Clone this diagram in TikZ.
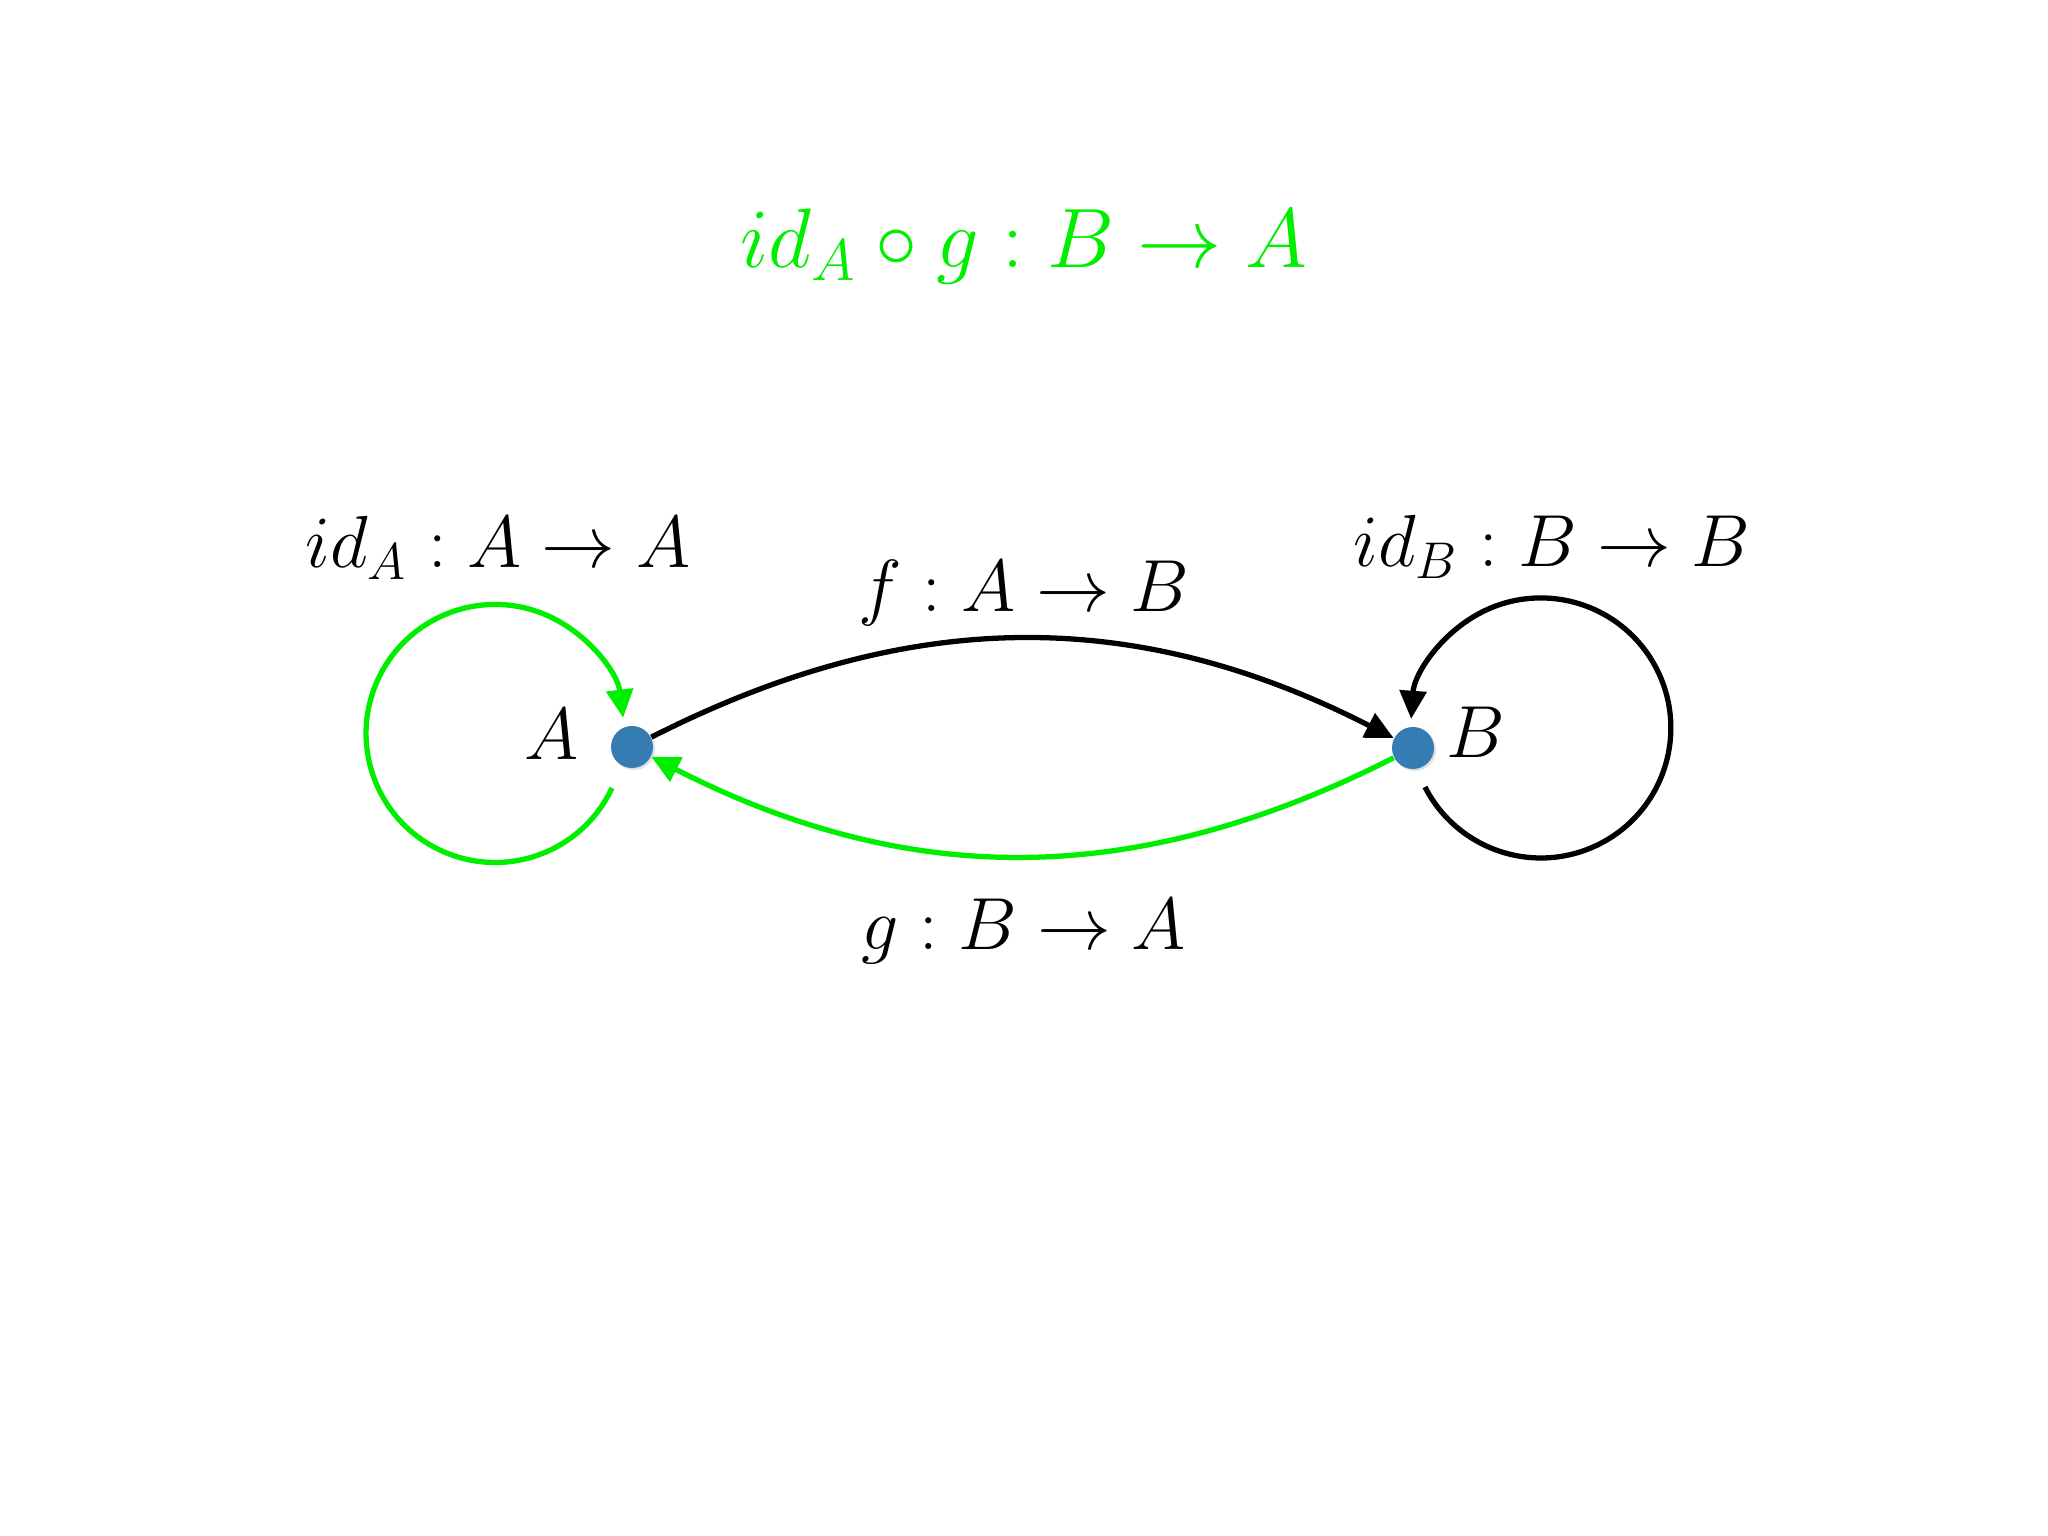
\RequirePackage{fix-cm}
\documentclass[tikz,border=0pt]{standalone}
\usetikzlibrary{arrows.meta,shadows}
\definecolor{verde}{RGB}{0,238,0}
\definecolor{punto}{RGB}{52,124,178}
\tikzset{
  obj/.style={circle,fill=punto,minimum size=0.42cm,inner sep=0pt,
    drop shadow={shadow xshift=0.02cm,shadow yshift=-0.02cm,opacity=0.25}},
  flecha/.style={line width=1.5pt,-{Triangle[length=8pt,width=7.5pt]}},
  etiq/.style={font=\fontsize{21}{25}\selectfont,anchor=base,inner sep=0pt},
}
\begin{document}
\begin{tikzpicture}
    \useasboundingbox (0,0) rectangle (20.48,15.36);

    % Objetos
    \node[obj] (A) at (6.32,7.89) {};
    \node[obj] (B) at (14.13,7.88) {};

    % Morfismos
    \draw[flecha] (A) to[bend left=27] (B);
    \draw[flecha,verde] (B) to[bend left=27] (A);

    % Identidades
    \draw[flecha,verde] ([shift={(-0.20,-0.41)}]A.center) arc[start angle=-25,end angle=-353,radius=1.29];
    \draw[flecha] ([shift={(0.12,-0.39)}]B.center) arc[start angle=207,end angle=536,radius=1.30];

    % Etiquetas
    \node[etiq] (labA) at (5.52,7.76) {$A$};
    \node[etiq] (labB) at (14.76,7.78) {$B$};
    \node[etiq] (idA) at (4.98,9.68) {$id_A : A \to A$};
    \node[etiq] (idB) at (15.52,9.69) {$id_B : B \to B$};
    \node[etiq] (labf) at (10.24,9.24) {$f : A \to B$};
    \node[etiq] (labg) at (10.24,5.86) {$g : B \to A$};
    \node[etiq,verde,font=\fontsize{24}{29}\selectfont] (titulo) at (10.24,12.68) {$id_A \circ g : B \to A$};
\end{tikzpicture}
\end{document}
